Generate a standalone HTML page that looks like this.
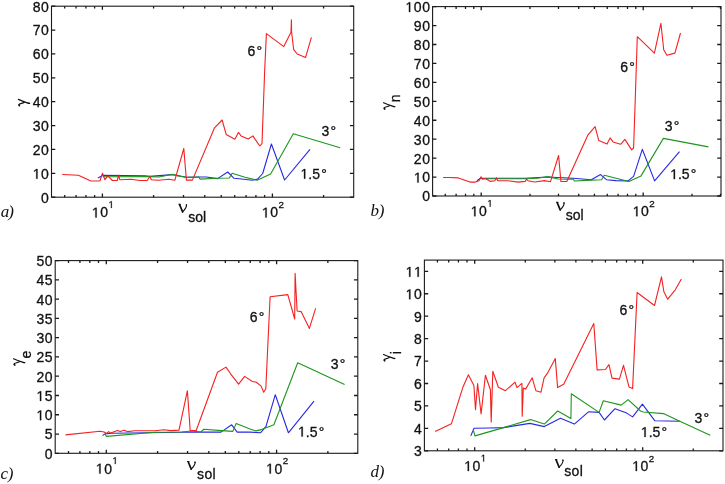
<!DOCTYPE html>
<html><head><meta charset="utf-8"><style>
html,body{margin:0;padding:0;background:#fff;}
svg{display:block;will-change:transform;}
.t{font-family:"Liberation Sans", sans-serif;font-size:14px;fill:#111;stroke:#111;stroke-width:0.3px;}
.pl{font-family:"Liberation Serif", serif;font-style:italic;font-size:17px;letter-spacing:-0.4px;fill:#111;}
</style></head><body>
<svg width="725" height="484" viewBox="0 0 725 484">
<defs><path id="one" transform="scale(0.0068359375 -0.0068359375)" d="M515 0V1237L197 1010V1180L530 1409H696V0Z" fill="#111" stroke="#111" stroke-width="44"/></defs>
<rect width="725" height="484" fill="#fff"/>
<path d="M51.5 197.2h3.8M353.7 197.2h-3.8M51.5 173.32h3.8M353.7 173.32h-3.8M51.5 149.45h3.8M353.7 149.45h-3.8M51.5 125.57h3.8M353.7 125.57h-3.8M51.5 101.7h3.8M353.7 101.7h-3.8M51.5 77.82h3.8M353.7 77.82h-3.8M51.5 53.95h3.8M353.7 53.95h-3.8M51.5 30.07h3.8M353.7 30.07h-3.8M51.5 6.2h3.8M353.7 6.2h-3.8M64.69 197.2v-2.3M64.69 6.2v2.3M76.07 197.2v-2.3M76.07 6.2v2.3M85.93 197.2v-2.3M85.93 6.2v2.3M94.62 197.2v-2.3M94.62 6.2v2.3M102.4 197.2v-3.6M102.4 6.2v3.6M153.58 197.2v-2.3M153.58 6.2v2.3M183.51 197.2v-2.3M183.51 6.2v2.3M204.75 197.2v-2.3M204.75 6.2v2.3M221.22 197.2v-2.3M221.22 6.2v2.3M234.69 197.2v-2.3M234.69 6.2v2.3M246.07 197.2v-2.3M246.07 6.2v2.3M255.93 197.2v-2.3M255.93 6.2v2.3M264.62 197.2v-2.3M264.62 6.2v2.3M272.4 197.2v-3.6M272.4 6.2v3.6M323.58 197.2v-2.3M323.58 6.2v2.3" stroke="#1a1a1a" stroke-width="1.3" fill="none"/>
<rect x="51.5" y="6.2" width="302.2" height="191" stroke="#1a1a1a" stroke-width="1.1" fill="none"/>
<text x="41.11" y="202.6" class="t" letter-spacing="0.6">0</text>
<use href="#one" transform="translate(32.73 178.72) scale(1)"/><text x="41.11" y="178.72" class="t" letter-spacing="0.6">0</text>
<text x="32.73" y="154.85" class="t" letter-spacing="0.6">20</text>
<text x="32.73" y="130.97" class="t" letter-spacing="0.6">30</text>
<text x="32.73" y="107.1" class="t" letter-spacing="0.6">40</text>
<text x="32.73" y="83.22" class="t" letter-spacing="0.6">50</text>
<text x="32.73" y="59.35" class="t" letter-spacing="0.6">60</text>
<text x="32.73" y="35.47" class="t" letter-spacing="0.6">70</text>
<text x="32.73" y="11.6" class="t" letter-spacing="0.6">80</text>
<use href="#one" transform="translate(91.89 217.4) scale(1)"/><text x="100.27" y="217.4" class="t" letter-spacing="0.6">0</text>
<use href="#one" transform="translate(108.46 208) scale(0.7)"/>
<use href="#one" transform="translate(261.89 217.4) scale(1)"/><text x="270.27" y="217.4" class="t" letter-spacing="0.6">0</text>
<text x="278.46" y="208" class="t" style="font-size:9.8px">2</text>
<path d="M432.6 196h3.8M721 196h-3.8M432.6 177.06h3.8M721 177.06h-3.8M432.6 158.12h3.8M721 158.12h-3.8M432.6 139.18h3.8M721 139.18h-3.8M432.6 120.24h3.8M721 120.24h-3.8M432.6 101.3h3.8M721 101.3h-3.8M432.6 82.36h3.8M721 82.36h-3.8M432.6 63.42h3.8M721 63.42h-3.8M432.6 44.48h3.8M721 44.48h-3.8M432.6 25.54h3.8M721 25.54h-3.8M432.6 6.6h3.8M721 6.6h-3.8M445.26 196v-2.3M445.26 6.6v2.3M456.11 196v-2.3M456.11 6.6v2.3M465.5 196v-2.3M465.5 6.6v2.3M473.79 196v-2.3M473.79 6.6v2.3M481.2 196v-3.6M481.2 6.6v3.6M529.97 196v-2.3M529.97 6.6v2.3M558.49 196v-2.3M558.49 6.6v2.3M578.73 196v-2.3M578.73 6.6v2.3M594.43 196v-2.3M594.43 6.6v2.3M607.26 196v-2.3M607.26 6.6v2.3M618.11 196v-2.3M618.11 6.6v2.3M627.5 196v-2.3M627.5 6.6v2.3M635.79 196v-2.3M635.79 6.6v2.3M643.2 196v-3.6M643.2 6.6v3.6M691.97 196v-2.3M691.97 6.6v2.3M720.49 196v-2.3M720.49 6.6v2.3" stroke="#1a1a1a" stroke-width="1.3" fill="none"/>
<rect x="432.6" y="6.6" width="288.4" height="189.4" stroke="#1a1a1a" stroke-width="1.1" fill="none"/>
<text x="422.21" y="201.4" class="t" letter-spacing="0.6">0</text>
<use href="#one" transform="translate(413.83 182.46) scale(1)"/><text x="422.21" y="182.46" class="t" letter-spacing="0.6">0</text>
<text x="413.83" y="163.52" class="t" letter-spacing="0.6">20</text>
<text x="413.83" y="144.58" class="t" letter-spacing="0.6">30</text>
<text x="413.83" y="125.64" class="t" letter-spacing="0.6">40</text>
<text x="413.83" y="106.7" class="t" letter-spacing="0.6">50</text>
<text x="413.83" y="87.76" class="t" letter-spacing="0.6">60</text>
<text x="413.83" y="68.82" class="t" letter-spacing="0.6">70</text>
<text x="413.83" y="49.88" class="t" letter-spacing="0.6">80</text>
<text x="413.83" y="30.94" class="t" letter-spacing="0.6">90</text>
<use href="#one" transform="translate(405.44 12) scale(1)"/><text x="413.83" y="12" class="t" letter-spacing="0.6">00</text>
<use href="#one" transform="translate(470.69 216.2) scale(1)"/><text x="479.07" y="216.2" class="t" letter-spacing="0.6">0</text>
<use href="#one" transform="translate(487.26 206.8) scale(0.7)"/>
<use href="#one" transform="translate(632.69 216.2) scale(1)"/><text x="641.07" y="216.2" class="t" letter-spacing="0.6">0</text>
<text x="649.26" y="206.8" class="t" style="font-size:9.8px">2</text>
<path d="M55.2 453.3h3.8M357.8 453.3h-3.8M55.2 434.03h3.8M357.8 434.03h-3.8M55.2 414.76h3.8M357.8 414.76h-3.8M55.2 395.49h3.8M357.8 395.49h-3.8M55.2 376.22h3.8M357.8 376.22h-3.8M55.2 356.95h3.8M357.8 356.95h-3.8M55.2 337.68h3.8M357.8 337.68h-3.8M55.2 318.41h3.8M357.8 318.41h-3.8M55.2 299.14h3.8M357.8 299.14h-3.8M55.2 279.87h3.8M357.8 279.87h-3.8M55.2 260.6h3.8M357.8 260.6h-3.8M68.52 453.3v-2.3M68.52 260.6v2.3M79.92 453.3v-2.3M79.92 260.6v2.3M89.8 453.3v-2.3M89.8 260.6v2.3M98.51 453.3v-2.3M98.51 260.6v2.3M106.3 453.3v-3.6M106.3 260.6v3.6M157.57 453.3v-2.3M157.57 260.6v2.3M187.55 453.3v-2.3M187.55 260.6v2.3M208.83 453.3v-2.3M208.83 260.6v2.3M225.33 453.3v-2.3M225.33 260.6v2.3M238.82 453.3v-2.3M238.82 260.6v2.3M250.22 453.3v-2.3M250.22 260.6v2.3M260.1 453.3v-2.3M260.1 260.6v2.3M268.81 453.3v-2.3M268.81 260.6v2.3M276.6 453.3v-3.6M276.6 260.6v3.6M327.87 453.3v-2.3M327.87 260.6v2.3" stroke="#1a1a1a" stroke-width="1.3" fill="none"/>
<rect x="55.2" y="260.6" width="302.6" height="192.7" stroke="#1a1a1a" stroke-width="1.1" fill="none"/>
<text x="44.81" y="458.7" class="t" letter-spacing="0.6">0</text>
<text x="44.81" y="439.43" class="t" letter-spacing="0.6">5</text>
<use href="#one" transform="translate(36.43 420.16) scale(1)"/><text x="44.81" y="420.16" class="t" letter-spacing="0.6">0</text>
<use href="#one" transform="translate(36.43 400.89) scale(1)"/><text x="44.81" y="400.89" class="t" letter-spacing="0.6">5</text>
<text x="36.43" y="381.62" class="t" letter-spacing="0.6">20</text>
<text x="36.43" y="362.35" class="t" letter-spacing="0.6">25</text>
<text x="36.43" y="343.08" class="t" letter-spacing="0.6">30</text>
<text x="36.43" y="323.81" class="t" letter-spacing="0.6">35</text>
<text x="36.43" y="304.54" class="t" letter-spacing="0.6">40</text>
<text x="36.43" y="285.27" class="t" letter-spacing="0.6">45</text>
<text x="36.43" y="266" class="t" letter-spacing="0.6">50</text>
<use href="#one" transform="translate(95.79 473.5) scale(1)"/><text x="104.17" y="473.5" class="t" letter-spacing="0.6">0</text>
<use href="#one" transform="translate(112.36 464.1) scale(0.7)"/>
<use href="#one" transform="translate(266.09 473.5) scale(1)"/><text x="274.47" y="473.5" class="t" letter-spacing="0.6">0</text>
<text x="282.66" y="464.1" class="t" style="font-size:9.8px">2</text>
<path d="M424.4 450.8h3.8M723 450.8h-3.8M424.4 428.36h3.8M723 428.36h-3.8M424.4 405.93h3.8M723 405.93h-3.8M424.4 383.49h3.8M723 383.49h-3.8M424.4 361.06h3.8M723 361.06h-3.8M424.4 338.62h3.8M723 338.62h-3.8M424.4 316.19h3.8M723 316.19h-3.8M424.4 293.75h3.8M723 293.75h-3.8M424.4 271.32h3.8M723 271.32h-3.8M437.43 450.8v-2.3M437.43 260.1v2.3M448.68 450.8v-2.3M448.68 260.1v2.3M458.42 450.8v-2.3M458.42 260.1v2.3M467.01 450.8v-2.3M467.01 260.1v2.3M474.7 450.8v-3.6M474.7 260.1v3.6M525.27 450.8v-2.3M525.27 260.1v2.3M554.86 450.8v-2.3M554.86 260.1v2.3M575.85 450.8v-2.3M575.85 260.1v2.3M592.13 450.8v-2.3M592.13 260.1v2.3M605.43 450.8v-2.3M605.43 260.1v2.3M616.68 450.8v-2.3M616.68 260.1v2.3M626.42 450.8v-2.3M626.42 260.1v2.3M635.01 450.8v-2.3M635.01 260.1v2.3M642.7 450.8v-3.6M642.7 260.1v3.6M693.27 450.8v-2.3M693.27 260.1v2.3" stroke="#1a1a1a" stroke-width="1.3" fill="none"/>
<rect x="424.4" y="260.1" width="298.6" height="190.7" stroke="#1a1a1a" stroke-width="1.1" fill="none"/>
<text x="414.01" y="456.2" class="t" letter-spacing="0.6">3</text>
<text x="414.01" y="433.76" class="t" letter-spacing="0.6">4</text>
<text x="414.01" y="411.33" class="t" letter-spacing="0.6">5</text>
<text x="414.01" y="388.89" class="t" letter-spacing="0.6">6</text>
<text x="414.01" y="366.46" class="t" letter-spacing="0.6">7</text>
<text x="414.01" y="344.02" class="t" letter-spacing="0.6">8</text>
<text x="414.01" y="321.59" class="t" letter-spacing="0.6">9</text>
<use href="#one" transform="translate(405.63 299.15) scale(1)"/><text x="414.01" y="299.15" class="t" letter-spacing="0.6">0</text>
<use href="#one" transform="translate(405.63 276.72) scale(1)"/><use href="#one" transform="translate(414.01 276.72) scale(1)"/>
<use href="#one" transform="translate(464.19 471) scale(1)"/><text x="472.57" y="471" class="t" letter-spacing="0.6">0</text>
<use href="#one" transform="translate(480.76 461.6) scale(0.7)"/>
<use href="#one" transform="translate(632.19 471) scale(1)"/><text x="640.57" y="471" class="t" letter-spacing="0.6">0</text>
<text x="648.76" y="461.6" class="t" style="font-size:9.8px">2</text>
<path d="M97.9 178 L103.3 175.3 L144.7 175.8 L150 176.4 L172.4 174.6 L186.4 177.2 L199.7 177 L206.3 177 L217.6 178.6 L227.7 172 L234.1 178.3 L243.8 179.2 L252.4 180.2 L257.6 179.1 L262.7 173.5 L271.4 144 L284.6 180 L310 149.4" stroke="#2828e6" stroke-width="1.1" fill="none" stroke-linejoin="round"/>
<path d="M103.3 176.8 L150 176.6 L159.1 177 L172.4 174.3 L177.3 175.8 L186.4 177.4 L198.8 177 L200 179.1 L217.6 178.3 L229.3 178 L232.1 173.2 L245 177.3 L257.1 180.2 L270.6 174.1 L293.3 133.8 L340.1 147.7" stroke="#1c961c" stroke-width="1.1" fill="none" stroke-linejoin="round"/>
<path d="M62.2 174.5 L78.4 175.2 L90.9 181 L97.8 181 L100 180.7 L102.5 173.3 L104.9 179.7 L107.8 175.9 L112.4 180.5 L117.3 180.5 L118.6 175.1 L119.8 179.7 L131.4 179.2 L139.7 180.5 L147.2 180.5 L150 176.3 L151.3 179.7 L158.3 180.3 L169 179.2 L174.8 180.3 L183.8 148.5 L186.4 180.1 L192.4 180.1 L214.3 128.2 L222.1 120 L226.2 134.4 L234.9 139.2 L238.4 132.4 L241.1 135.9 L248.3 139 L252.9 135.9 L255.2 139.4 L259.8 146 L262 143.6 L264.7 70 L266.4 33.6 L283.8 46.6 L291 32.3 L291.4 19.7 L291.6 32 L293.7 49.7 L297.2 54 L305.6 57.4 L311.4 37.3" stroke="#f52020" stroke-width="1.1" fill="none" stroke-linejoin="round"/>
<path d="M476.9 180.7 L479.7 178.6 L482 178.2 L525 178.3 L547.8 177 L573.3 178.3 L591.2 179.7 L600.6 174.6 L606.4 179.7 L616 180.6 L628 180.9 L633.6 176.3 L642.3 149.3 L654.6 180.9 L679.5 151.7" stroke="#2828e6" stroke-width="1.1" fill="none" stroke-linejoin="round"/>
<path d="M482 178.8 L525 178.7 L537.4 178.3 L547.8 176.6 L558.1 179 L566.4 179.2 L573.3 179 L574.4 181 L591.2 180.1 L601.6 179.7 L604.3 175.2 L628.9 181.5 L641 175.9 L663.4 138.4 L708.4 146.9" stroke="#1c961c" stroke-width="1.1" fill="none" stroke-linejoin="round"/>
<path d="M443.1 177.5 L449.3 177.5 L458.3 177.9 L470 182.1 L475.5 182.1 L479 180.7 L481 176.8 L482.4 179.3 L484.5 178.6 L486.6 179.3 L490.7 181.4 L494.8 180.7 L496.5 177.7 L497.6 180.7 L507.2 180.7 L518.3 182.1 L525.2 181.4 L526.6 179.3 L528 180.7 L534.7 182 L544.3 180.6 L550.5 181.7 L558.6 155.5 L560.9 181.5 L566.8 181.5 L588 134.8 L595.1 126.6 L598.8 140.6 L607 144.1 L610.1 137.9 L613.1 141.9 L620.6 144.3 L624.9 139.4 L631.7 149.9 L633.6 148 L634.9 110 L637.3 36.7 L654.4 53.1 L660.9 23.3 L663.7 49.8 L666.9 55.3 L674.9 53.1 L680.5 33" stroke="#f52020" stroke-width="1.1" fill="none" stroke-linejoin="round"/>
<path d="M102.5 435.6 L104.9 433.9 L111.6 433.2 L148 432.8 L181.7 432.3 L202.4 432.1 L221 432.1 L231.7 424.8 L237.2 432.1 L250 432.1 L260.5 432.8 L266 426.3 L275.3 394.7 L288.4 432.8 L314 401.2" stroke="#2828e6" stroke-width="1.1" fill="none" stroke-linejoin="round"/>
<path d="M104.9 434.1 L106.6 436.4 L155 432.3 L181.7 432 L191.4 431 L201 432 L203.8 429.2 L221.7 430.6 L232.8 431.4 L236.2 423.4 L250 429 L255.8 430.9 L261.4 429.6 L273.9 424.8 L297.7 362.7 L344.6 384.4" stroke="#1c961c" stroke-width="1.1" fill="none" stroke-linejoin="round"/>
<path d="M65.5 434.9 L100 431.2 L104.1 432 L106.6 433.4 L108.7 431.6 L110.7 433.1 L117.4 430.6 L120.2 431.6 L124 430.3 L127.3 431.6 L134.7 430.8 L155 430.8 L163.8 429.7 L170.7 430.6 L179 430.1 L187.4 390.7 L190.2 430.5 L196.2 430.5 L217.5 372.2 L226 367.1 L230.6 373.8 L238.6 384.2 L244.6 376.4 L252.3 381.5 L256.2 382.2 L261 385.9 L263.7 392.2 L265.8 388.8 L270.1 296.8 L287.8 294.6 L294.7 319 L295.1 273.4 L297.1 311 L301.1 311.6 L309.4 328.4 L315.6 308.3" stroke="#f52020" stroke-width="1.1" fill="none" stroke-linejoin="round"/>
<path d="M470.8 435.9 L474 428.3 L489.8 428 L503.6 427.6 L529.8 423.4 L544.3 426.6 L560.5 418.3 L574.3 424.1 L588.8 411.7 L599.1 412.4 L604.4 420 L615 408.7 L626.7 413.1 L632.6 416.9 L642.4 404.2 L654.9 420.8 L679.8 421.2" stroke="#2828e6" stroke-width="1.1" fill="none" stroke-linejoin="round"/>
<path d="M473.6 430.8 L474.9 435.9 L503.6 427.6 L530.5 419.6 L544.3 424.1 L557.7 411 L570.9 418.6 L571.3 393.8 L599.1 412.4 L603.3 400.7 L621.2 405.1 L628.1 399.6 L640.5 411 L643.3 412 L663.4 413.6 L679.8 421.2 L710.2 435.2" stroke="#1c961c" stroke-width="1.1" fill="none" stroke-linejoin="round"/>
<path d="M435.1 431.5 L451.4 423.8 L463.1 386.7 L468.4 374.7 L473.9 385.5 L475.5 409.7 L477.6 383.6 L481.1 414 L485.4 375.2 L490.4 389.8 L491.2 422.1 L492.8 371.2 L498.4 387.3 L505.4 390.7 L515 382.2 L517 387.6 L521.9 383.3 L522.2 416.2 L523.3 388.1 L525.6 389.1 L532.2 377.8 L535.9 390.7 L541 392.2 L544.1 377.8 L547.2 373.7 L555.3 358.6 L557.6 387.6 L563.7 384.3 L593.8 323.6 L597.1 369.9 L605.4 369.5 L609 364.6 L612 378.1 L619.4 379.1 L623.5 365.4 L629 386.9 L632.6 388.6 L637.1 292.5 L654.5 305.5 L661.5 276.8 L663.9 291.8 L667.7 299.2 L675.3 289.8 L681.4 279.1" stroke="#f52020" stroke-width="1.1" fill="none" stroke-linejoin="round"/>
<text x="247.6" y="55.7" class="t">6</text><text x="256.59" y="55.7" class="t">°</text>
<text x="321.6" y="136.4" class="t">3</text><text x="330.59" y="136.4" class="t">°</text>
<use href="#one" transform="translate(300.5 178.7) scale(1)"/><text x="308.29" y="178.7" class="t">.5</text><text x="321.16" y="178.7" class="t">°</text>
<text x="620.3" y="71.7" class="t">6</text><text x="629.29" y="71.7" class="t">°</text>
<text x="664.7" y="130.7" class="t">3</text><text x="673.69" y="130.7" class="t">°</text>
<use href="#one" transform="translate(670.2 179.1) scale(1)"/><text x="677.99" y="179.1" class="t">.5</text><text x="690.86" y="179.1" class="t">°</text>
<text x="249.7" y="321.9" class="t">6</text><text x="258.69" y="321.9" class="t">°</text>
<text x="330.7" y="368.6" class="t">3</text><text x="339.69" y="368.6" class="t">°</text>
<use href="#one" transform="translate(298 436.5) scale(1)"/><text x="305.79" y="436.5" class="t">.5</text><text x="318.66" y="436.5" class="t">°</text>
<text x="619.6" y="314.6" class="t">6</text><text x="628.59" y="314.6" class="t">°</text>
<text x="694.4" y="423.4" class="t">3</text><text x="703.39" y="423.4" class="t">°</text>
<use href="#one" transform="translate(640.9 436.9) scale(1)"/><text x="648.69" y="436.9" class="t">.5</text><text x="661.56" y="436.9" class="t">°</text>
<text x="0.8" y="217.3" class="pl" style="letter-spacing:-1px">a)</text>
<text x="370.6" y="216" class="pl">b)</text>
<text x="0.6" y="479" class="pl">c)</text>
<text x="370.6" y="476.5" class="pl">d)</text>
<g class="t">
<text x="188.3" y="221.9">sol</text>
<text x="565.7" y="219.6">sol</text>
<text x="197.1" y="479.2" letter-spacing="0.3">sol</text>
<text x="564.3" y="475.8" letter-spacing="0.3">sol</text>
<text transform="translate(400,102.3) rotate(-90)">n</text>
<text transform="translate(30.8,358.6) rotate(-90)">e</text>
<text transform="translate(401.1,354.2) rotate(-90)">i</text>
</g>
<defs>
<g id="gam" fill="none" stroke="#111" stroke-linecap="round">
<path d="M18.4 99.4 C21 100.6 24 101.8 26.5 102.6 S28.8 103.5 29.6 103.4" stroke-width="1.25"/>
<path d="M19.6 106 C18.3 105.1 18.8 104 20.5 103.7 C21.8 103.4 23 103 24.2 102.4" stroke-width="1.2"/>
<ellipse cx="19.3" cy="105.1" rx="0.9" ry="1" fill="#111" stroke="none"/>
<ellipse cx="28.8" cy="103.3" rx="1.2" ry="0.7" fill="#111" stroke="none"/>
</g>
<g id="nu" fill="none" stroke="#111" stroke-linecap="round">
<path d="M179.6 204.6 L182.6 211.9" stroke-width="1.7"/>
<path d="M186.5 204.8 C186.7 207 184.8 209.8 182.6 211.9" stroke-width="1.1"/>
<path d="M178.9 204.3 H180.5" stroke-width="0.9"/>
<circle cx="186.4" cy="205" r="0.75" fill="#111" stroke="none"/>
</g>
</defs>
<use href="#gam"/>
<use href="#gam" transform="translate(365.2,3.3)"/>
<use href="#gam" transform="translate(-4.8,259.3)"/>
<use href="#gam" transform="translate(365.2,255.1)"/>
<use href="#nu"/>
<use href="#nu" transform="translate(377.6,-2)"/>
<use href="#nu" transform="translate(8.6,257.2)"/>
<use href="#nu" transform="translate(376.5,255.3)"/>

</svg>
</body></html>
